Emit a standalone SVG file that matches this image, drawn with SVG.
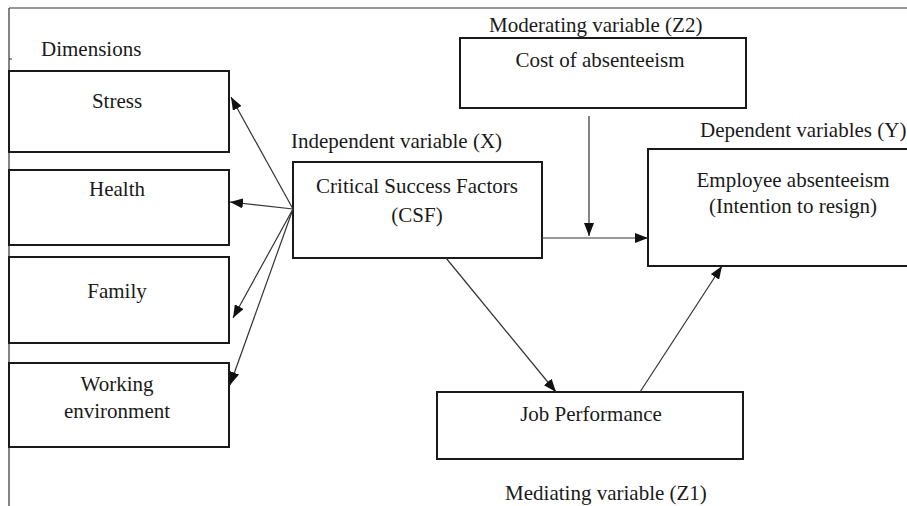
<svg xmlns="http://www.w3.org/2000/svg" width="907" height="506" viewBox="0 0 907 506">
<style>
text{font-family:"Liberation Serif","Times New Roman",serif;font-size:21px;fill:#1a1a1a}
.c{text-anchor:middle}
.box{fill:#fff;stroke:#1a1a1a;stroke-width:2}
.ln{stroke:#333;stroke-width:1.2;fill:none}
.edge{stroke:#333;stroke-width:1.2;fill:none;marker-end:url(#ah)}
</style>
<defs>
<marker id="ah" markerUnits="userSpaceOnUse" markerWidth="14" markerHeight="10" refX="13" refY="5" orient="auto">
<path d="M0,0 L13,5 L0,10 z" fill="#111"/>
</marker>
</defs>
<rect width="907" height="506" fill="#fff"/>
<g id="frame">
<path class="ln" d="M9,8 H907 M9,8 V506 M9,59 H12"/>
</g>
<text x="41" y="56">Dimensions</text>
<g id="stress"><rect class="box" x="9" y="71" width="220" height="81"/><text class="c" x="117" y="108">Stress</text></g>
<g id="health"><rect class="box" x="9" y="170" width="220" height="75"/><text class="c" x="117" y="196">Health</text></g>
<g id="family"><rect class="box" x="9" y="257" width="220" height="86"/><text class="c" x="117" y="298">Family</text></g>
<g id="working"><rect class="box" x="9" y="363" width="220" height="84"/><text class="c" x="117" y="391">Working</text><text class="c" x="117" y="418">environment</text></g>
<g id="csf"><text x="291" y="148">Independent variable (X)</text><rect class="box" x="293" y="162" width="249" height="96"/><text class="c" x="417" y="193">Critical Success Factors</text><text class="c" x="417" y="222">(CSF)</text></g>
<g id="cost"><text x="489" y="32">Moderating variable (Z2)</text><rect class="box" x="460" y="38" width="286" height="70"/><text class="c" x="600" y="67">Cost of absenteeism</text></g>
<g id="employee"><text x="700" y="137">Dependent variables (Y)</text><rect class="box" x="648" y="149" width="270" height="117"/><text class="c" x="793" y="187">Employee absenteeism</text><text class="c" x="793" y="213">(Intention to resign)</text></g>
<g id="job"><rect class="box" x="437" y="392" width="306" height="67"/><text class="c" x="591" y="421">Job Performance</text><text class="c" x="606" y="500">Mediating variable (Z1)</text></g>
<g id="connectors">
<path class="edge" d="M293,209 L231,97"/>
<path class="edge" d="M293,209 L230,202"/>
<path class="edge" d="M293,209 L233,318"/>
<path class="edge" d="M293,209 L230,385"/>
<path class="edge" d="M589,116 V236"/>
<path class="edge" d="M542,238 H648"/>
<path class="edge" d="M446,258 L556,392"/>
<path class="edge" d="M640,392 L722,266"/>
</g>
</svg>
